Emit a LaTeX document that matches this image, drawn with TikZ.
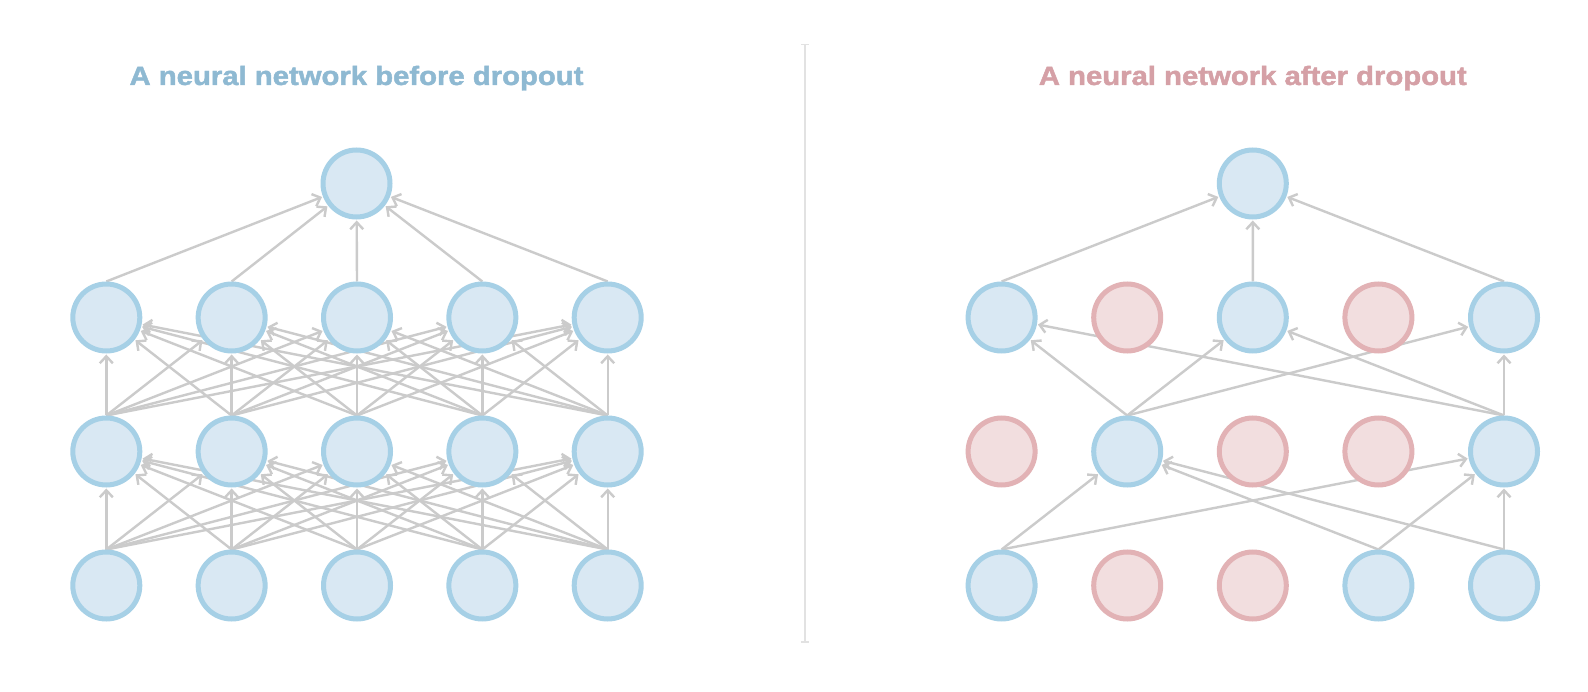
\documentclass[tikz,border=0pt]{standalone}
\usepackage{fontspec}
\setmainfont{Liberation Sans}
\newfontfamily\titlefont{Liberation Sans}[FakeBold=1.6]
\usetikzlibrary{arrows.meta}
\pgfdeclarelayer{bg}
\pgfsetlayers{bg,main}
\definecolor{nfill}{HTML}{D9E8F3}
\definecolor{nblue}{HTML}{A6D0E6}
\definecolor{pfill}{HTML}{F2DEDF}
\definecolor{npink}{HTML}{E2B2B5}
\definecolor{ecol}{HTML}{CBCBCB}
\definecolor{tblue}{HTML}{8EB9D2}
\definecolor{tpink}{HTML}{D5A0A6}
\definecolor{divcol}{HTML}{E2E2E2}
\begin{document}
\begin{tikzpicture}[x=1pt,y=-1pt,
  neuron/.style={circle,minimum size=67pt,inner sep=0pt,line width=5pt,draw=nblue,fill=nfill},
  dropped/.style={neuron,draw=npink,fill=pfill},
  edge/.style={draw=ecol,line width=2.4pt,-{Straight Barb[length=7pt,width=13pt]},shorten >=1pt},
  ttl/.style={font=\fontsize{26.5}{30}\selectfont\titlefont\bfseries,anchor=base,inner sep=0pt},
  divider/.style={draw=divcol,line width=2pt}]
\useasboundingbox (0,0) rectangle (1588,692);
\begin{pgfonlayer}{bg}
  \fill[white] (0,0) rectangle (1588,692);
\end{pgfonlayer}

% titles
\node[ttl,text=tblue] (title1) at (356.5,85) {\scalebox{1.105}[1]{A neural network before dropout}};
\node[ttl,text=tpink] (title2) at (1252.8,85) {\scalebox{1.105}[1]{A neural network after dropout}};

% divider
\coordinate (d1) at (805,44.6);
\coordinate (d2) at (805,642);
\coordinate (d1a) at (801,44.6);
\coordinate (d1b) at (809,44.6);
\coordinate (d2a) at (801,642);
\coordinate (d2b) at (809,642);
\draw[divider] (d1) -- (d2);
\draw[divider,line width=1.5pt] (d1a) -- (d1b);
\draw[divider,line width=1.5pt] (d2a) -- (d2b);

% left network
\foreach \r/\y in {0/585.5,1/451.5,2/317.5}{
  \foreach \i in {1,...,5}{
    \node[neuron] (l\r-\i) at ({106.3+(\i-1)*125.35},\y) {};
  }
}
\node[neuron] (lt) at (356.5,183.5) {};

% right network
\foreach \i/\s in {1/neuron,2/dropped,3/dropped,4/neuron,5/neuron}
  \node[\s] (r0-\i) at ({1001.6+(\i-1)*125.6},585.5) {};
\foreach \i/\s in {1/dropped,2/neuron,3/dropped,4/dropped,5/neuron}
  \node[\s] (r1-\i) at ({1001.6+(\i-1)*125.6},451.5) {};
\foreach \i/\s in {1/neuron,2/dropped,3/neuron,4/dropped,5/neuron}
  \node[\s] (r2-\i) at ({1001.6+(\i-1)*125.6},317.5) {};
\node[neuron] (rt) at (1252.8,183.5) {};

\begin{pgfonlayer}{bg}
  % left edges
  \foreach \i in {1,...,5}{
    \foreach \j in {1,...,5}{
      \draw[edge] (l0-\i.north) -- (l1-\j);
      \draw[edge] (l1-\i.north) -- (l2-\j);
    }
    \draw[edge] (l2-\i.north) -- (lt);
  }
  % right edges
  \foreach \i in {1,4,5}{
    \foreach \j in {2,5}{
      \draw[edge] (r0-\i.north) -- (r1-\j);
    }
  }
  \foreach \i in {2,5}{
    \foreach \j in {1,3,5}{
      \draw[edge] (r1-\i.north) -- (r2-\j);
    }
  }
  \foreach \i in {1,3,5}{
    \draw[edge] (r2-\i.north) -- (rt);
  }
\end{pgfonlayer}
\end{tikzpicture}
\end{document}
